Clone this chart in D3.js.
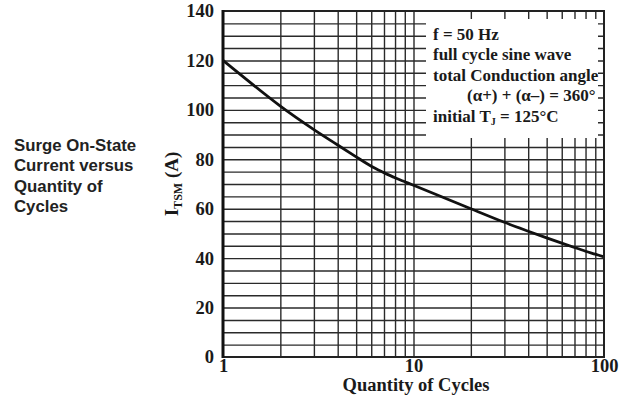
<!DOCTYPE html>
<html lang="en">
<head>
  <meta charset="UTF-8">
  <title>Surge On-State Current versus Quantity of Cycles</title>
  <script src="https://d3js.org/d3.v7.min.js" charset="utf-8"></script>
  <style>
    body { margin: 0; background: #fff; }
    svg { display: block; }
  </style>
</head>
<body>
</body>
<script>
  let cycles = [1, 2, 3, 4, 5, 6, 7, 8, 9, 10, 20, 30, 40, 50, 60, 70, 80, 90, 100]
  let itsm = [120, 101.5, 92, 85.8, 81, 77.2, 74.6, 72.5, 70.9, 69.5, 60, 54.5, 50.9, 48.2, 46.1, 44.3, 42.8, 41.6, 40.5]
  let yTicks = [0, 20, 40, 60, 80, 100, 120, 140]
  let xTicks = [1, 10, 100]
  let xGrid = [2, 3, 4, 5, 6, 7, 8, 9, 10, 20, 30, 40, 50, 60, 70, 80, 90]
  let yGrid = d3.range(5, 140, 5)
  let titleLines = ['Surge On-State', 'Current versus', 'Quantity of', 'Cycles']
  let notes = ['f = 50 Hz', 'full cycle sine wave', 'total Conduction angle']

  let W = 635, H = 402
  let pl = 223, pr = 604, pt = 11, pb = 357
  let serif = '"Liberation Serif", "Times New Roman", serif'
  let ink = '#1a1a1a'

  let svg = d3.select('body').append('svg').attr('width', W).attr('height', H)

  let x = d3.scaleLog().domain([1, 100]).range([pl, pr])
  let y = d3.scaleLinear().domain([0, 140]).range([pb, pt])

  // grid lines
  svg.append('g').attr('transform', 'translate(0,' + pb + ')')
    .call(d3.axisBottom(x).tickValues(xGrid).tickSize(-(pb - pt)).tickFormat(''))
    .call(g => g.select('.domain').remove())
    .selectAll('line').attr('stroke', '#2a2a2a').attr('stroke-width', 1.4)

  svg.append('g').attr('transform', 'translate(' + pl + ',0)')
    .call(d3.axisLeft(y).tickValues(yGrid).tickSize(-(pr - pl)).tickFormat(''))
    .call(g => g.select('.domain').remove())
    .selectAll('line').attr('stroke', '#2a2a2a').attr('stroke-width', 1.4)

  // note box covers the grid, leaving short stubs at the frame
  svg.append('rect').attr('x', 426).attr('y', 19).attr('width', 172).attr('height', 119).attr('fill', '#fff')

  // curve
  let line = d3.line()
    .x((d, i) => x(cycles[i]))
    .y(d => y(d))
    .curve(d3.curveCatmullRom.alpha(0.5))
  svg.append('path').attr('d', line(itsm))
    .attr('fill', 'none').attr('stroke', '#111').attr('stroke-width', 2.8)

  // frame
  svg.append('rect').attr('x', pl).attr('y', pt).attr('width', pr - pl).attr('height', pb - pt)
    .attr('fill', 'none').attr('stroke', '#222').attr('stroke-width', 2)
  svg.append('line').attr('x1', pl).attr('x2', pl).attr('y1', pt - 1).attr('y2', pb + 1)
    .attr('stroke', '#111').attr('stroke-width', 3)

  // axes labels
  let ya = svg.append('g').attr('transform', 'translate(' + pl + ',0)')
    .call(d3.axisLeft(y).tickValues(yTicks).tickSize(0).tickPadding(9))
  ya.select('.domain').remove()
  ya.selectAll('text').attr('font-family', serif).attr('font-weight', 'bold')
    .attr('font-size', 18.5).attr('fill', ink)

  let xa = svg.append('g').attr('transform', 'translate(0,' + pb + ')')
    .call(d3.axisBottom(x).tickValues(xTicks).tickSize(0).tickPadding(2).tickFormat(d3.format('d')))
  xa.select('.domain').remove()
  xa.selectAll('text').attr('font-family', serif).attr('font-weight', 'bold')
    .attr('font-size', 18.5).attr('fill', ink)

  svg.append('text').attr('x', 416).attr('y', 391).attr('text-anchor', 'middle')
    .attr('font-family', serif).attr('font-weight', 'bold').attr('font-size', 18.5).attr('fill', ink)
    .text('Quantity of Cycles')

  let yl = svg.append('text').attr('transform', 'translate(178,184) rotate(-90)').attr('text-anchor', 'middle')
    .attr('font-family', serif).attr('font-weight', 'bold').attr('font-size', 19).attr('fill', ink)
  yl.append('tspan').text('I')
  yl.append('tspan').attr('font-size', 12).attr('dy', 4).text('TSM')
  yl.append('tspan').attr('dy', -4).text(' (A)')

  // side title
  svg.append('g').selectAll('text').data(titleLines).enter().append('text')
    .attr('x', 14).attr('y', (d, i) => 150.5 + i * 20.5)
    .attr('font-family', '"Liberation Sans", Arial, sans-serif').attr('font-weight', 'bold')
    .attr('font-size', 16.8).attr('fill', '#222')
    .text(d => d)

  // notes
  let nt = svg.append('g').attr('font-family', serif).attr('font-weight', 'bold')
    .attr('font-size', 17).attr('fill', ink)
  nt.selectAll('text.n').data(notes).enter().append('text').attr('class', 'n')
    .attr('x', 433).attr('y', (d, i) => 39.5 + i * 20.5).text(d => d)
  nt.append('text').attr('x', 467).attr('y', 39.5 + 3 * 20.5).text('(\u03b1+) + (\u03b1\u2013) = 360\u00b0')
  let tj = nt.append('text').attr('x', 433).attr('y', 39.5 + 4 * 20.5)
  tj.append('tspan').text('initial T')
  tj.append('tspan').attr('font-size', 10).attr('dy', 3).text('J')
  tj.append('tspan').attr('dy', -3).text(' = 125\u00b0C')
</script>
</html>
